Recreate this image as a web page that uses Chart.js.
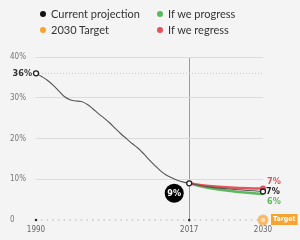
<!DOCTYPE html>
<html>
<head>
<meta charset="utf-8">
<script src="https://cdn.jsdelivr.net/npm/chart.js@4"></script>
<style>
  html, body { margin: 0; padding: 0; background: #f4f4f4; }
  #wrap { position: relative; width: 300px; height: 240px; }
  #legend { position: absolute; left: 0; top: 0; width: 300px; font-family: Lato, "Open Sans", sans-serif; font-size: 11px; color: #333; }
  .item { position: absolute; white-space: nowrap; line-height: 14px; }
  .item i { position: absolute; left: -11px; top: 4px; width: 6px; height: 6px; border-radius: 50%; }
</style>
</head>
<body>
<div id="wrap">
  <canvas id="chart" width="300" height="240"></canvas>
  <div id="legend">
    <div class="item" style="left:51px;top:7px"><i style="background:#111"></i>Current projection</div>
    <div class="item" style="left:168px;top:7px"><i style="background:#5cb85c"></i>If we progress</div>
    <div class="item" style="left:51px;top:23px"><i style="background:#f5a331"></i>2030 Target</div>
    <div class="item" style="left:168px;top:23px"><i style="background:#e2535b"></i>If we regress</div>
  </div>
</div>
<script>
// ---- data ----
const histYears = [1990, 1991, 1992, 1993, 1994, 1995, 1996, 1997, 1998, 1999,
                   2000, 2001, 2002, 2003, 2004, 2005, 2006, 2007, 2008, 2009,
                   2010, 2011, 2012, 2013, 2014, 2015, 2016, 2017];
const histValues = [36, 35.2, 34.3, 33.1, 31.7, 30.3, 29.5, 29.2, 29.1, 28.4,
                    27.3, 26.1, 25.0, 23.8, 22.4, 21.1, 19.9, 18.7, 17.6, 16.2,
                    14.7, 13.3, 12.0, 11.0, 10.3, 9.7, 9.3, 9.0];
const projYears = [2017, 2020, 2025, 2030];
const currentProj = [9.0, 8.2, 7.5, 7.0];
const progressProj = [9.0, 8.0, 7.0, 6.4];
const regressProj = [9.0, 8.4, 7.9, 7.7];
const targetYear = 2030;
const targetValue = 0;
const xTicks = [1990, 2017, 2030];
const yTicks = [0, 10, 20, 30, 40];

const NARROW = '"DejaVu Sans Condensed", "Liberation Sans Narrow", sans-serif';

const currentData = histYears.map((y, i) => ({ x: y, y: histValues[i] }))
  .concat(projYears.slice(1).map((y, i) => ({ x: y, y: currentProj[i + 1] })));
const progressData = projYears.map((y, i) => ({ x: y, y: progressProj[i] }));
const regressData = projYears.map((y, i) => ({ x: y, y: regressProj[i] }));

// dotted guides under the lines, value labels over them
const guides = {
  id: 'guides',
  beforeDatasetsDraw(chart) {
    const { ctx, scales: { x, y } } = chart;
    ctx.save();
    // zero line, one dot per year
    const y0 = y.getPixelForValue(0);
    for (let yr = histYears[0]; yr < targetYear; yr++) {
      ctx.fillStyle = '#cfcfcf';
      ctx.beginPath();
      ctx.arc(x.getPixelForValue(yr), y0, 0.9, 0, Math.PI * 2);
      ctx.fill();
    }
    [xTicks[0], xTicks[1]].forEach(v => {
      ctx.fillStyle = '#333';
      ctx.beginPath();
      ctx.arc(x.getPixelForValue(v), y0, 1.3, 0, Math.PI * 2);
      ctx.fill();
    });
    // start value line
    const ys = y.getPixelForValue(histValues[0]);
    ctx.strokeStyle = '#c4c4c4';
    ctx.lineWidth = 1;
    ctx.setLineDash([1, 2]);
    ctx.beginPath();
    ctx.moveTo(x.left, ys);
    ctx.lineTo(x.right, ys);
    ctx.stroke();
    ctx.restore();
  },
  afterDatasetsDraw(chart) {
    const { ctx, scales: { x, y } } = chart;
    ctx.save();
    ctx.textBaseline = 'middle';
    ctx.font = 'bold 9px ' + NARROW;
    // 36%
    ctx.fillStyle = '#333';
    ctx.textAlign = 'right';
    ctx.fillText(histValues[0] + '%', x.getPixelForValue(histYears[0]) - 4, y.getPixelForValue(histValues[0]));
    // 9% bubble
    const bx = x.getPixelForValue(2017) - 15, by = y.getPixelForValue(9) + 10;
    ctx.fillStyle = '#000';
    ctx.beginPath();
    ctx.arc(bx, by, 9.5, 0, Math.PI * 2);
    ctx.fill();
    ctx.fillStyle = '#fff';
    ctx.textAlign = 'center';
    ctx.fillText('9%', bx, by + 0.5);
    // end labels
    const ex = x.getPixelForValue(targetYear);
    const yEnd = y.getPixelForValue(currentProj[3]);
    ctx.textAlign = 'left';
    ctx.fillStyle = '#e2535b';
    ctx.fillText(Math.floor(regressProj[3]) + '%', ex + 4, yEnd - 9.5);
    ctx.fillStyle = '#222';
    ctx.fillText(Math.floor(currentProj[3]) + '%', ex + 3, yEnd + 0.5);
    ctx.fillStyle = '#5cb85c';
    ctx.fillText(Math.floor(progressProj[3]) + '%', ex + 4, yEnd + 10.5);
    // target tag
    const ty = y.getPixelForValue(targetValue);
    ctx.font = 'bold 7px ' + NARROW;
    const tw = ctx.measureText('Target').width + 4;
    ctx.fillStyle = '#f5a331';
    ctx.fillRect(ex + 8, ty - 6, Math.max(18, tw), 11);
    ctx.fillStyle = '#fff';
    ctx.textAlign = 'center';
    ctx.fillText('Target', ex + 8 + Math.max(18, tw) / 2, ty - 0.5);
    ctx.restore();
  }
};

const endOnly = (r) => (ctx) => ctx.dataIndex === ctx.dataset.data.length - 1 ? r : 0;

new Chart(document.getElementById('chart'), {
  type: 'line',
  data: {
    datasets: [
      {
        label: 'Current projection',
        data: currentData,
        borderColor: '#555',
        borderWidth: 1.1,
        cubicInterpolationMode: 'monotone',
        pointRadius: (ctx) => xTicks.includes(ctx.raw.x) ? 2.5 : 0,
        pointBackgroundColor: '#fff',
        pointBorderColor: '#222',
        pointBorderWidth: 1.3,
        clip: false,
        order: 0
      },
      {
        label: 'If we regress',
        data: regressData,
        borderColor: '#e2535b',
        borderWidth: 2.5,
        cubicInterpolationMode: 'monotone',
        pointRadius: endOnly(3),
        pointBackgroundColor: '#e2535b',
        pointBorderWidth: 0,
        clip: false,
        order: 1
      },
      {
        label: 'If we progress',
        data: progressData,
        borderColor: '#5cb85c',
        borderWidth: 2.5,
        cubicInterpolationMode: 'monotone',
        pointRadius: 0,
        clip: false,
        order: 2
      },
      {
        label: '2030 Target',
        data: [{ x: targetYear, y: targetValue }],
        showLine: false,
        pointRadius: 4,
        pointBackgroundColor: '#fbd9ad',
        pointBorderColor: 'rgba(245,163,49,0.65)',
        pointBorderWidth: 3,
        clip: false,
        order: 3
      }
    ]
  },
  options: {
    responsive: false,
    animation: false,
    layout: { padding: { left: 10, top: 57, right: 37, bottom: 0 } },
    plugins: { legend: { display: false }, tooltip: { enabled: false } },
    scales: {
      x: {
        type: 'linear',
        min: histYears[0],
        max: targetYear,
        afterBuildTicks: (axis) => { axis.ticks = xTicks.map(v => ({ value: v })); },
        afterFit: (scale) => { scale.height = 20; },
        border: { display: false },
        grid: {
          color: (ctx) => ctx.tick && ctx.tick.value === 2017 ? '#9a9a9a' : 'rgba(0,0,0,0)',
          lineWidth: 1,
          drawTicks: true,
          tickLength: 2
        },
        ticks: {
          font: { family: NARROW, size: 8 },
          color: '#666',
          padding: 3,
          maxRotation: 0,
          callback: (v) => String(v)
        }
      },
      y: {
        min: 0,
        max: 40,
        afterBuildTicks: (axis) => { axis.ticks = yTicks.map(v => ({ value: v })); },
        afterFit: (scale) => { scale.width = 26; },
        border: { display: false },
        grid: {
          color: (ctx) => ctx.tick && ctx.tick.value === 0 ? 'rgba(0,0,0,0)' : '#dcdcdc',
          drawTicks: false
        },
        ticks: {
          crossAlign: 'far',
          padding: 0,
          font: { family: NARROW, size: 8 },
          color: '#777',
          callback: (v) => v === 0 ? '0' : v + '%'
        }
      }
    }
  },
  plugins: [guides]
});
</script>
</body>
</html>
